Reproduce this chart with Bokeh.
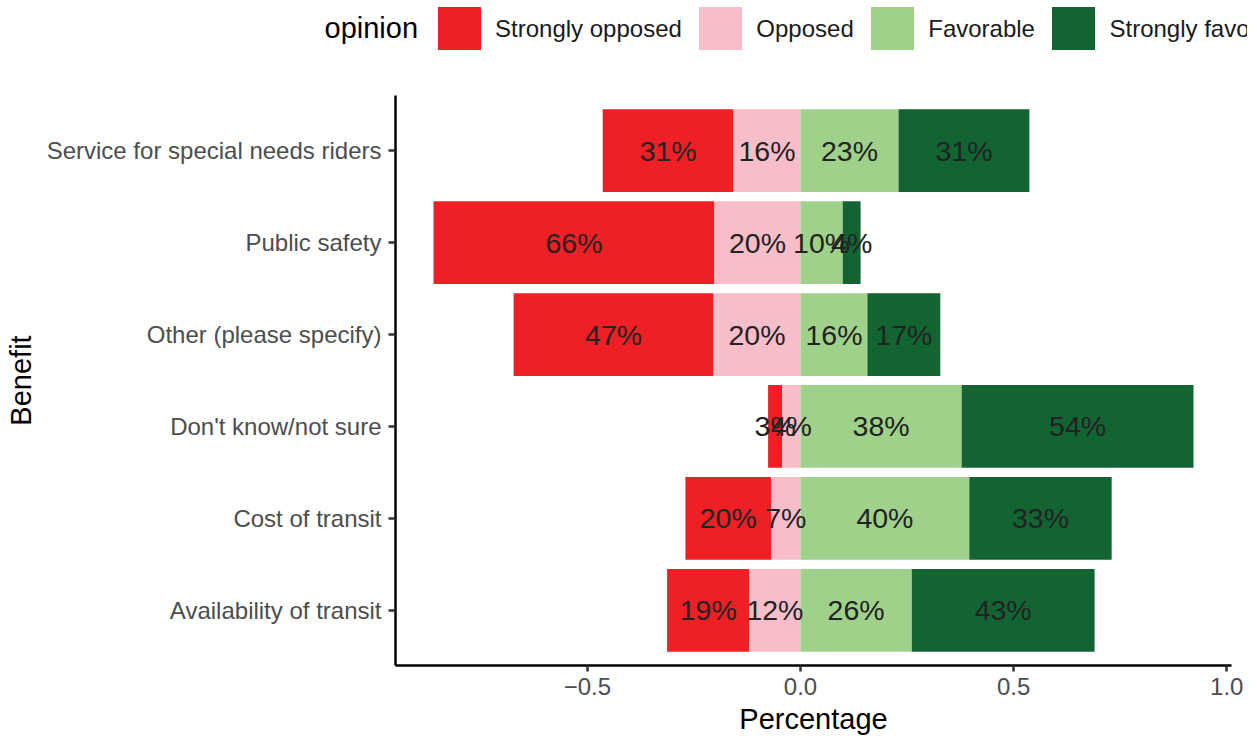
import html
from bokeh.plotting import figure
from bokeh.layouts import column
from bokeh.models import (ColumnDataSource, FactorRange, Range1d, FixedTicker,
                          CustomJSTickFormatter, Div)
from bokeh.core.properties import value
from bokeh.embed import file_html
from bokeh.resources import INLINE

# ---- data ----
benefits = ["Service for special needs riders", "Public safety", "Other (please specify)",
            "Don't know/not sure", "Cost of transit", "Availability of transit"]
opinions = ["Strongly opposed", "Opposed", "Favorable", "Strongly favorable"]
strongly_opposed = [0.307, 0.659, 0.469, 0.033, 0.201, 0.193]
opposed = [0.157, 0.202, 0.204, 0.043, 0.069, 0.120]
favorable = [0.230, 0.099, 0.157, 0.378, 0.396, 0.261]
strongly_favorable = [0.307, 0.042, 0.171, 0.544, 0.334, 0.429]
colors = ["#EE1F25", "#F7BDC9", "#9FD18A", "#136433"]
x_ticks = [-0.5, 0.0, 0.5, 1.0]
legend_title = "opinion"

FONT = "Liberation Sans"

# segment extents (diverging stack)
seg = {
    "Strongly opposed": ([-(o + s) for o, s in zip(opposed, strongly_opposed)],
                         [-o for o in opposed], strongly_opposed),
    "Opposed": ([-o for o in opposed], [0.0] * len(opposed), opposed),
    "Favorable": ([0.0] * len(favorable), favorable, favorable),
    "Strongly favorable": (favorable, [f + s for f, s in zip(favorable, strongly_favorable)],
                           strongly_favorable),
}

lo = min(seg["Strongly opposed"][0])
hi = max(seg["Strongly favorable"][1])
span = hi - lo

W = 1257
LEG_H = 95            # legend strip on top
H = 738 - LEG_H       # main chart
LEFT, RIGHT, BOTTOM = 395, 26, 73

# ---------------- main chart ----------------
p = figure(width=W, height=H, output_backend="svg", toolbar_location=None,
           y_range=FactorRange(factors=list(reversed(benefits)),
                               range_padding=0.1, range_padding_units="absolute"),
           x_range=Range1d(lo - 0.05 * span, hi + 0.05 * span),
           min_border_left=LEFT, min_border_right=RIGHT,
           min_border_top=0, min_border_bottom=BOTTOM)

for name, col in zip(opinions, colors):
    left, right, vals = seg[name]
    src = ColumnDataSource(dict(benefit=benefits, left=left, right=right))
    p.hbar(y="benefit", left="left", right="right", height=0.9, source=src,
           fill_color=col, line_color=None)

for name in opinions:
    left, right, vals = seg[name]
    src = ColumnDataSource(dict(benefit=benefits,
                                mid=[(a + b) / 2 for a, b in zip(left, right)],
                                label=[f"{round(v * 100):d}%" for v in vals]))
    p.text(x="mid", y="benefit", text="label", source=src,
           text_font=value(FONT), text_font_size=value("28.5px"),
           text_color="#222222", text_align="center", text_baseline="middle")

p.xaxis.ticker = FixedTicker(ticks=x_ticks)
p.xaxis.formatter = CustomJSTickFormatter(
    code="return (tick < 0 ? '\u2212' : '') + Math.abs(tick).toFixed(1);")
p.xaxis.axis_label = "Percentage"
p.yaxis.axis_label = "Benefit"
for ax in (p.xaxis[0], p.yaxis[0]):
    ax.axis_line_color = "black"
    ax.axis_line_width = 2.5
    ax.major_tick_line_color = "#333333"
    ax.major_tick_line_width = 2.5
    ax.major_tick_in = 0
    ax.minor_tick_line_color = None
    ax.major_label_text_font = FONT
    ax.major_label_text_font_size = "24px"
    ax.major_label_text_color = "#4D4D4D"
    ax.axis_label_text_font = FONT
    ax.axis_label_text_font_size = "29px"
    ax.axis_label_text_color = "black"
    ax.axis_label_text_font_style = "normal"
p.xaxis.major_tick_out = 6
p.xaxis.major_label_standoff = 6
p.xaxis.axis_label_standoff = 5
p.yaxis.major_tick_out = 7
p.yaxis.major_label_standoff = 7
p.yaxis.axis_label_standoff = 7

p.xgrid.grid_line_color = None
p.ygrid.grid_line_color = None
p.outline_line_color = None

# ---------------- legend strip (ggplot "top" legend, overflowing the right margin) ----------------
parts = [f'<span style="flex:none;font-size:29px;color:#000000;margin-right:19.5px">'
         f'{html.escape(legend_title)}</span>']
for o, c in zip(opinions, colors):
    parts.append(f'<span style="flex:none;display:inline-block;width:43px;height:43px;'
                 f'background:{c};margin-right:14.5px"></span>')
    parts.append(f'<span style="flex:none;font-size:24px;color:#1a1a1a;margin-right:17px">'
                 f'{html.escape(o)}</span>')
legend_html = (
    '<div style="display:flex;flex-wrap:nowrap;align-items:center;box-sizing:border-box;'
    f'width:{W - 10}px;height:50px;padding:7px 0 0 324.5px;overflow:hidden;white-space:nowrap;'
    f"font-family:'{FONT}',Arial,sans-serif;line-height:1\">"
    + "".join(parts) + "</div>"
)
legend_div = Div(text=legend_html, width=W, height=LEG_H, margin=0,
                 styles={"overflow": "hidden"})

layout = column(legend_div, p, spacing=0)
open("out.html", "w", encoding="utf-8").write(file_html(layout, INLINE))
